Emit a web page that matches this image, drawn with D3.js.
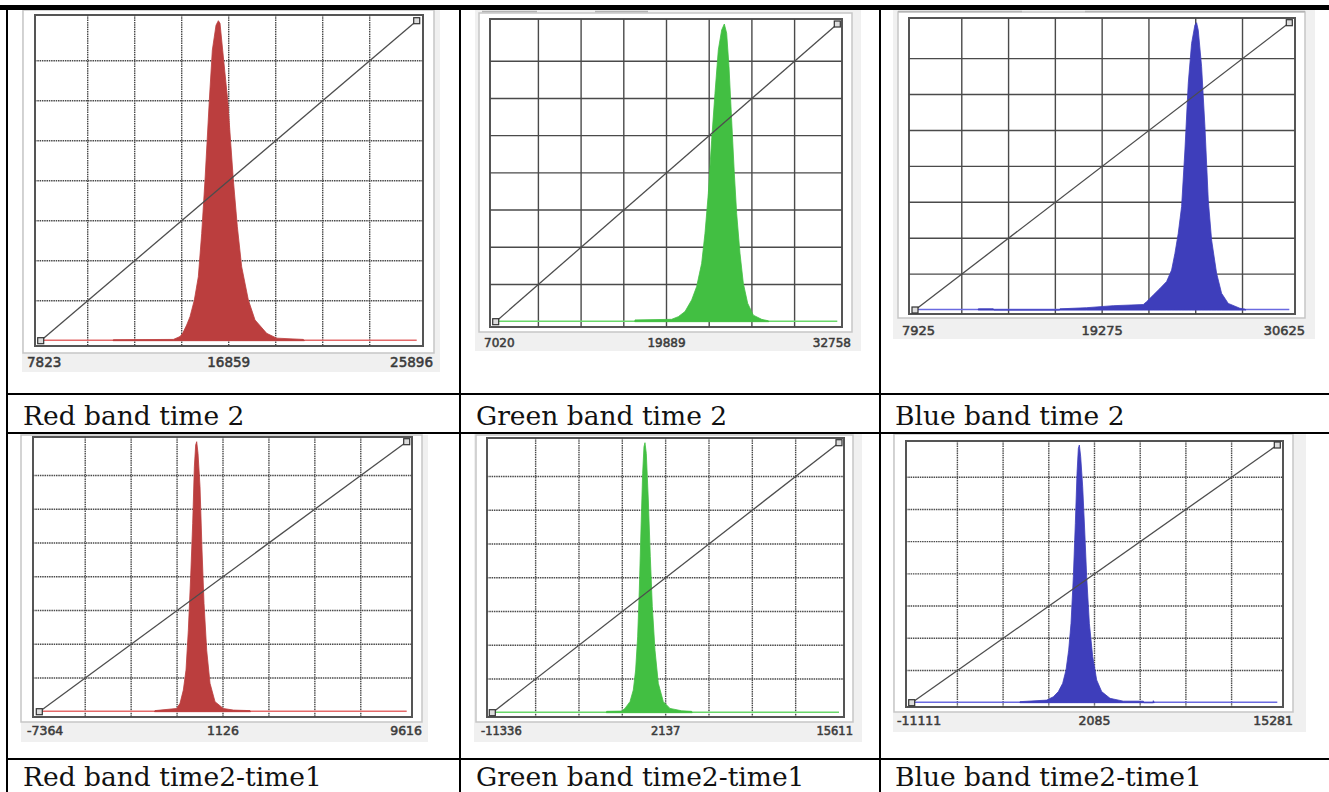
<!DOCTYPE html>
<html>
<head>
<meta charset="utf-8">
<script src="https://cdn.jsdelivr.net/npm/d3@7"></script>
<style>
body { margin: 0; background: #fff; }
svg { display: block; }
</style>
</head>
<body>
<svg id="chart" width="1329" height="792"></svg>
<script>
// captions of the six cells
var captions = [ "Red band time 2", "Green band time 2", "Blue band time 2",
		"Red band time2-time1", "Green band time2-time1", "Blue band time2-time1" ];

// value range of each histogram (min, max) and the three labels under it
var ranges = [ [ 7823, 25896 ], [ 7020, 32758 ], [ 7925, 30625 ],
		[ -7364, 9616 ], [ -11336, 15611 ], [ -11111, 15281 ] ];
var tickLabels = [ [ "7823", "16859", "25896" ], [ "7020", "19889", "32758" ],
		[ "7925", "19275", "30625" ], [ "-7364", "1126", "9616" ],
		[ "-11336", "2137", "15611" ], [ "-11111", "2085", "15281" ] ];

// histograms: [pixel value, count in % of peak]
var redT2Hist = [ [ 11300, 0 ], [ 11316, 0.3 ], [ 14199, 0.4 ], [ 14519, 1.3 ],
		[ 14647, 2.3 ], [ 14840, 4.9 ], [ 15000, 7.5 ], [ 15208, 12.7 ],
		[ 15400, 20 ], [ 15561, 33.5 ], [ 15721, 50.2 ], [ 15929, 75.2 ],
		[ 16073, 90.8 ], [ 16250, 98.6 ], [ 16362, 100 ], [ 16442, 99.2 ],
		[ 16570, 90.8 ], [ 16810, 75.2 ], [ 17083, 50.2 ], [ 17275, 35.6 ],
		[ 17483, 23.1 ], [ 17804, 12.7 ], [ 18124, 6.5 ], [ 18685, 2.3 ],
		[ 19165, 0.8 ], [ 20447, 0.4 ], [ 20500, 0 ] ];

var greenT2Hist = [ [ 17500, 0 ], [ 17516, 0.6 ], [ 20278, 0.8 ], [ 20780, 1.7 ],
		[ 21282, 3.4 ], [ 21785, 7.3 ], [ 22161, 11.8 ], [ 22538, 19.6 ],
		[ 22789, 29.7 ], [ 23040, 43.1 ], [ 23291, 61 ], [ 23542, 76.7 ],
		[ 23793, 91.3 ], [ 24045, 98 ], [ 24245, 100 ], [ 24421, 96.9 ],
		[ 24597, 85.7 ], [ 24798, 67.7 ], [ 24999, 49.8 ], [ 25174, 36.4 ],
		[ 25425, 23 ], [ 25677, 12.9 ], [ 26003, 6.2 ], [ 26430, 2.2 ],
		[ 27058, 0.8 ], [ 27560, 0.3 ], [ 27600, 0 ] ];

var blueT2Hist = [ [ 11750, 0 ], [ 11765, 0.4 ], [ 12674, 0.4 ], [ 12700, 0 ],
		[ 16700, 0 ], [ 16716, 0.4 ], [ 18333, 0.8 ], [ 19950, 1.5 ],
		[ 21769, 1.9 ], [ 21971, 2.9 ], [ 22375, 5.2 ], [ 22779, 7.5 ],
		[ 23184, 9.9 ], [ 23487, 13.9 ], [ 23689, 19.7 ], [ 23891, 26.7 ],
		[ 24093, 36 ], [ 24295, 55.7 ], [ 24497, 78.9 ], [ 24699, 92.8 ],
		[ 24901, 99.2 ], [ 25002, 100 ], [ 25104, 97.4 ], [ 25306, 84.7 ],
		[ 25508, 63.8 ], [ 25710, 38.3 ], [ 25912, 24.4 ], [ 26215, 12.8 ],
		[ 26518, 5.8 ], [ 26922, 2.3 ], [ 27630, 0.6 ], [ 27933, 0.3 ],
		[ 28000, 0 ] ];

var redDiffHist = [ [ -2040, 0 ], [ -2017, 0.4 ], [ -1015, 1.2 ], [ -861, 3.1 ],
		[ -707, 8 ], [ -584, 15.4 ], [ -476, 30.2 ], [ -368, 50 ],
		[ -275, 69.8 ], [ -198, 90.7 ], [ -137, 98.8 ], [ -90, 100 ],
		[ -29, 95.7 ], [ 64, 83.3 ], [ 156, 59.9 ], [ 249, 40.1 ],
		[ 372, 22.8 ], [ 526, 10.5 ], [ 757, 3.7 ], [ 1142, 1.2 ],
		[ 1605, 0.6 ], [ 2375, 0.4 ], [ 2400, 0 ] ];

var greenDiffHist = [ [ -2470, 0 ], [ -2449, 0.5 ], [ -1283, 0.6 ],
		[ -1024, 1.6 ], [ -635, 4.1 ], [ -376, 8.4 ], [ -195, 15.8 ],
		[ -39, 28.1 ], [ 90, 45.4 ], [ 220, 67.7 ], [ 349, 88.6 ],
		[ 453, 98.5 ], [ 531, 100 ], [ 634, 96 ], [ 790, 78.8 ], [ 945, 57.8 ],
		[ 1101, 39.3 ], [ 1308, 23.2 ], [ 1567, 10.9 ], [ 1956, 4.1 ],
		[ 2474, 1.6 ], [ 3381, 0.7 ], [ 4158, 0.5 ], [ 4200, 0 ] ];

var blueDiffHist = [ [ -3300, 0 ], [ -3291, 0.4 ], [ -1367, 1 ], [ -885, 2.3 ],
		[ -525, 4.3 ], [ -212, 7.5 ], [ 29, 12.7 ], [ 221, 20.4 ],
		[ 390, 30.8 ], [ 558, 48.9 ], [ 702, 69.6 ], [ 823, 89 ], [ 919, 98.7 ],
		[ 991, 100 ], [ 1087, 95.5 ], [ 1232, 83.8 ], [ 1376, 67 ],
		[ 1521, 48.9 ], [ 1713, 30.8 ], [ 1954, 17.9 ], [ 2242, 8.8 ],
		[ 2603, 4.3 ], [ 3205, 1.7 ], [ 4167, 0.6 ], [ 5611, 0.6 ],
		[ 5650, 0 ], [ 6300, 0 ], [ 6333, 0.8 ], [ 6400, 0 ] ];

var histograms = [ redT2Hist, greenT2Hist, blueT2Hist, redDiffHist,
		greenDiffHist, blueDiffHist ];

var fills = [ "#bb3e3e", "#42bf42", "#3e3ebb", "#bb3e3e", "#42bf42", "#3e3ebb" ];
var baseColors = [ "#e46a6a", "#6ad86a", "#6a6ae0", "#e46a6a", "#6ad86a",
		"#6a6ae0" ];

// screenshot geometry of each panel: gray back, light frame, dark frame, data area
var layout = [ {
	bg : [ 22, 10, 440, 372 ],
	outer : [ 23, 10, 434, 353 ],
	frame : [ 35, 15, 423, 346 ],
	data : [ 40.7, 20.7, 416.7, 340.7 ],
	labelY : 367,
	labelX : [ 27, 433 ],
	fs : 13.5,
	dotted : true
}, {
	bg : [ 475, 10, 861, 351 ],
	outer : [ 479, 13, 852, 332 ],
	frame : [ 490, 19, 842, 327 ],
	data : [ 495.7, 24, 837.3, 321.7 ],
	labelY : 347,
	labelX : [ 484, 851 ],
	fs : 12
}, {
	bg : [ 893, 10, 1315, 339 ],
	outer : [ 898, 12, 1305, 318 ],
	frame : [ 909, 18, 1295, 314 ],
	data : [ 915, 22.7, 1289.3, 310 ],
	labelY : 335,
	labelX : [ 902, 1305 ],
	fs : 13
}, {
	bg : [ 21, 435, 428, 742 ],
	outer : [ 21, 435, 422, 722 ],
	frame : [ 33, 437, 412, 717 ],
	data : [ 39.3, 441.7, 406.7, 711.7 ],
	labelY : 735,
	labelX : [ 27, 422 ],
	fs : 12.5,
	dotted : true
}, {
	bg : [ 474, 433, 862, 742 ],
	outer : [ 476, 435, 853, 722 ],
	frame : [ 487, 438, 844, 717 ],
	data : [ 492.3, 442.7, 839, 712.7 ],
	labelY : 735,
	labelX : [ 481, 853 ],
	fs : 11.5,
	dotted : true
}, {
	bg : [ 893, 433, 1306, 732 ],
	outer : [ 894, 434, 1293, 712 ],
	frame : [ 906, 441, 1283, 707 ],
	data : [ 911.7, 445, 1277.3, 702.7 ],
	labelY : 725,
	labelX : [ 897, 1293 ],
	fs : 12.5,
	dotted : true
} ];

var captionPos = [ [ 23, 425 ], [ 476, 425 ], [ 895, 425 ], [ 23, 785.5 ],
		[ 476, 785.5 ], [ 895, 785.5 ] ];

var svg = d3.select("#chart");

svg.append("rect").attr("width", 1329).attr("height", 792).attr("fill", "#fff");

function drawPanel(i) {

	var L = layout[i];
	var range = ranges[i];
	var g = svg.append("g").attr("class", "panel");

	var x = d3.scaleLinear().domain(range).range([ L.data[0], L.data[2] ]);
	var y = d3.scaleLinear().domain([ 0, 100 ]).range([ L.data[3], L.data[1] ]);

	function box(b, fill, stroke, sw) {
		g.append("rect") //
		.attr("x", b[0]) //
		.attr("y", b[1]) //
		.attr("width", b[2] - b[0]) //
		.attr("height", b[3] - b[1]) //
		.attr("fill", fill) //
		.attr("stroke", stroke) //
		.attr("stroke-width", sw);
	}

	box(L.bg, "#f0f0f0", "none", 0);
	box(L.outer, "#fff", "#c6c6c6", 1.5);
	box(L.frame, "#fff", "#555", 2);

	// 8 x 8 grid
	var span = range[1] - range[0];
	var xs = d3.range(1, 8).map(function(k) {
		return range[0] + k * span / 8;
	});
	var ys = d3.range(1, 8).map(function(k) {
		return k * 100 / 8;
	});

	g.selectAll("line.vgrid").data(xs).enter().append("line") //
	.attr("class", "vgrid") //
	.attr("x1", function(d) {
		return x(d);
	}) //
	.attr("x2", function(d) {
		return x(d);
	}) //
	.attr("y1", L.frame[1]) //
	.attr("y2", L.frame[3]) //
	.attr("stroke", "#4a4a4a") //
	.attr("stroke-width", 1.4) //
	.attr("stroke-dasharray", L.dotted ? "1.5,0.8" : null);

	g.selectAll("line.hgrid").data(ys).enter().append("line") //
	.attr("class", "hgrid") //
	.attr("x1", L.frame[0]) //
	.attr("x2", L.frame[2]) //
	.attr("y1", function(d) {
		return y(d);
	}) //
	.attr("y2", function(d) {
		return y(d);
	}) //
	.attr("stroke", "#4a4a4a") //
	.attr("stroke-width", 1.4) //
	.attr("stroke-dasharray", L.dotted ? "1.5,0.8" : null);

	// thin line of near-zero counts over the whole range
	g.append("line") //
	.attr("x1", x(range[0])) //
	.attr("x2", x(range[1])) //
	.attr("y1", y(0) - 0.5) //
	.attr("y2", y(0) - 0.5) //
	.attr("stroke", baseColors[i]) //
	.attr("stroke-width", 1.6);

	var area = d3.area() //
	.x(function(d) {
		return x(d[0]);
	}) //
	.y0(y(0)) //
	.y1(function(d) {
		return y(d[1]);
	});

	g.append("path") //
	.datum(histograms[i]) //
	.attr("d", area) //
	.attr("fill", fills[i]) //
	.attr("stroke", fills[i]) //
	.attr("stroke-width", 0.8);

	// stretch line with its end handles
	g.append("line") //
	.attr("x1", x(range[0])) //
	.attr("y1", y(0)) //
	.attr("x2", x(range[1])) //
	.attr("y2", y(100)) //
	.attr("stroke", "#4d4d4d") //
	.attr("stroke-width", 1.3);

	g.selectAll("rect.handle").data([ [ range[0], 0 ], [ range[1], 100 ] ])
			.enter().append("rect") //
	.attr("class", "handle") //
	.attr("x", function(d) {
		return x(d[0]) - 3;
	}) //
	.attr("y", function(d) {
		return y(d[1]) - 3;
	}) //
	.attr("width", 6) //
	.attr("height", 6) //
	.attr("fill", "#ddd") //
	.attr("stroke", "#333") //
	.attr("stroke-width", 1.2);

	// min, mid, max labels
	var labs = tickLabels[i];
	var lx = [ L.labelX[0], x((range[0] + range[1]) / 2), L.labelX[1] ];
	var anchors = [ "start", "middle", "end" ];

	g.selectAll("text.tick").data(labs).enter().append("text") //
	.attr("class", "tick") //
	.attr("x", function(d, k) {
		return lx[k];
	}) //
	.attr("y", L.labelY) //
	.attr("text-anchor", function(d, k) {
		return anchors[k];
	}) //
	.attr("font-family", "'DejaVu Sans', Verdana, sans-serif") //
	.attr("font-size", L.fs) //
	.attr("fill", "#333") //
	.attr("stroke", "#444") //
	.attr("stroke-width", 0.55) //
	.text(function(d) {
		return d;
	});

}// END: drawPanel

for (var i = 0; i < 6; i++) {
	drawPanel(i);
}

// tab edges peeking out above the top panels
var tabEdges = [ [ 482, 537 ], [ 595, 648 ], [ 898, 1022 ], [ 1085, 1305 ] ];
svg.selectAll("line.tab").data(tabEdges).enter().append("line") //
.attr("x1", function(d) {
	return d[0];
}) //
.attr("x2", function(d) {
	return d[1];
}) //
.attr("y1", 11.5) //
.attr("y2", 11.5) //
.attr("stroke", "#b4b4b4") //
.attr("stroke-width", 1.5);

// table rules
svg.append("rect").attr("x", 0).attr("y", 5).attr("width", 1329).attr(
		"height", 5).attr("fill", "#000");

var vRules = [ 7, 460, 880 ];
svg.selectAll("line.vrule").data(vRules).enter().append("line") //
.attr("x1", function(d) {
	return d;
}) //
.attr("x2", function(d) {
	return d;
}) //
.attr("y1", 10) //
.attr("y2", 792) //
.attr("stroke", "#000") //
.attr("stroke-width", 2);

var hRules = [ 394, 433, 759 ];
svg.selectAll("line.hrule").data(hRules).enter().append("line") //
.attr("x1", 6) //
.attr("x2", 1329) //
.attr("y1", function(d) {
	return d;
}) //
.attr("y2", function(d) {
	return d;
}) //
.attr("stroke", "#000") //
.attr("stroke-width", 2);

svg.selectAll("text.caption").data(captions).enter().append("text") //
.attr("class", "caption") //
.attr("x", function(d, i) {
	return captionPos[i][0];
}) //
.attr("y", function(d, i) {
	return captionPos[i][1];
}) //
.attr("font-family", "'DejaVu Serif', 'Liberation Serif', serif") //
.attr("font-size", 26.5) //
.attr("fill", "#111") //
.text(function(d) {
	return d;
});
</script>
</body>
</html>
